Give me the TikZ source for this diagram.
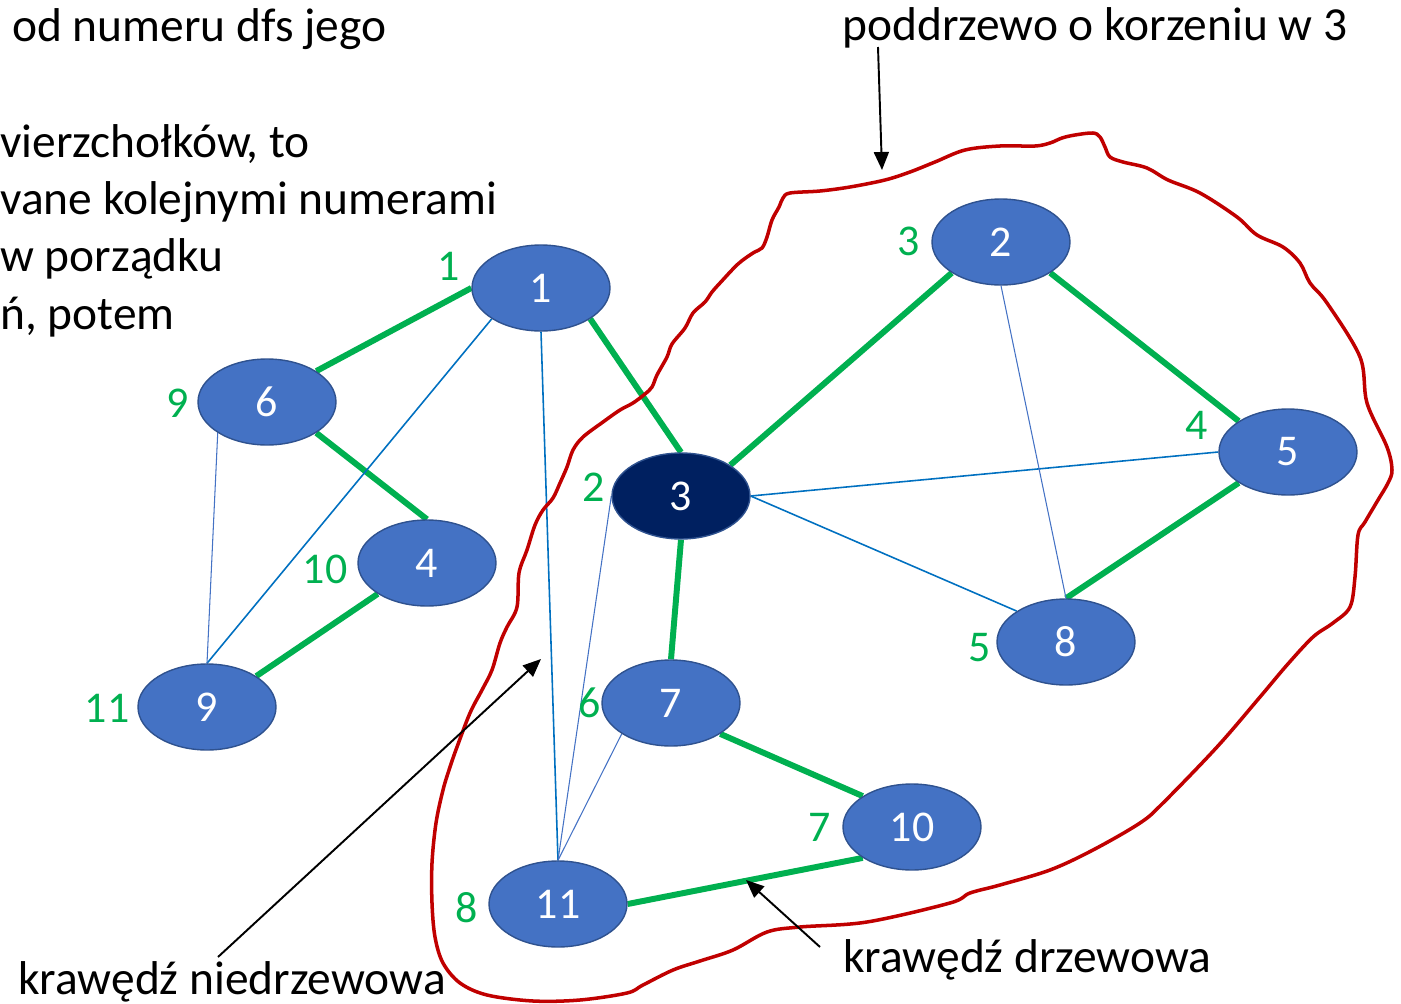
\documentclass[tikz,border=0pt]{standalone}
\usepackage{fontspec}
\setmainfont{Carlito}
\usetikzlibrary{shapes.geometric, arrows.meta, backgrounds}

\definecolor{vblue}{HTML}{4472C4}
\definecolor{vborder}{HTML}{2F528F}
\definecolor{vroot}{HTML}{002060}
\definecolor{tgreen}{HTML}{00B050}
\definecolor{bblue}{HTML}{0070C0}
\definecolor{sred}{HTML}{C00000}

\tikzset{
  vertex/.style={ellipse, draw=vborder, fill=vblue, line width=0.8pt,
    minimum width=2.76cm, minimum height=1.72cm, inner sep=0pt,
    text=white, font=\fontsize{25}{30}\selectfont},
  root/.style={vertex, fill=vroot},
  dfsnum/.style={text=tgreen, inner sep=0pt, font=\fontsize{25}{30}\selectfont},
  treeedge/.style={draw=tgreen, line width=3.4pt},
  backedge/.style={draw=bblue, line width=0.9pt},
  thinedge/.style={draw=vblue, line width=0.6pt},
  caption/.style={inner sep=0pt, anchor=base west, font=\fontsize{27}{32}\selectfont},
  pointer/.style={-{Triangle[length=0.36cm,width=0.3cm]}, line width=1.1pt},
}

\begin{document}
\begin{tikzpicture}[x=0.02cm, y=-0.02cm]
        \useasboundingbox (0,0) rectangle (1401,1004);

        % text of the slide, cut at the left edge
        \node[caption] (line1) at (12,41)  {od numeru dfs jego};
        \node[caption] (line2) at (0,157)  {vierzchołków, to};
        \node[caption] (line3) at (0,214)  {vane kolejnymi numerami};
        \node[caption] (line4) at (0,271)  {w porządku};
        \node[caption] (line5) at (0,329)  {ń, potem};

        % graph
        \node[vertex] (n1)  at (541,288) {1};
        \node[vertex] (n6)  at (267,402) {6};
        \node[vertex] (n4)  at (427,563) {4};
        \node[vertex] (n9)  at (207,707) {9};
        \node[root]   (n3)  at (681,496) {3};
        \node[vertex] (n2)  at (1001,242) {2};
        \node[vertex] (n5)  at (1288,452) {5};
        \node[vertex] (n8)  at (1066,642) {8};
        \node[vertex] (n7)  at (671,703) {7};
        \node[vertex] (n10) at (912,827) {10};
        \node[vertex] (n11) at (558,904) {11};

        % dfs numbers
        \node[dfsnum] (d1)  at (449,266) {1};
        \node[dfsnum] (d6)  at (178,403) {9};
        \node[dfsnum] (d4)  at (325,569) {10};
        \node[dfsnum] (d9)  at (107,708) {11};
        \node[dfsnum] (d3)  at (594,487) {2};
        \node[dfsnum] (d2)  at (909,241) {3};
        \node[dfsnum] (d5)  at (1197,425) {4};
        \node[dfsnum] (d8)  at (980,648) {5};
        \node[dfsnum] (d7)  at (590,703) {6};
        \node[dfsnum] (d10) at (820,827) {7};
        \node[dfsnum] (d11) at (467,908) {8};

        \begin{scope}[on background layer]
        \path[treeedge]
        (n1.west) edge (n6.north east)
        (n6.south east) edge (n4.north)
        (n4.south west) edge (n9.north east)
        (n1.south east) edge (n3.north)
        (n3.north east) edge (n2.south west)
        (n2.south east) edge (n5.north west)
        (n5.south west) edge (n8.north)
        (n3.south) edge (n7.north)
        (n7.south east) edge (n10.north west)
        (n10.south west) edge (n11.east);

        \path[backedge]
        (n1.south west) edge (n9.north)
        (n1.south) edge (n11.north)
        (n3.east) edge (n5.west)
             edge (n8.north west);

        \path[thinedge]
        (n6.south west) edge (n9.north)
        (n3.west) edge (n11.north)
        (n7.south west) edge (n11.north)
        (n2.south) edge (n8.north);
        \end{scope}

        % subtree of vertex 3
        \draw[sred, line width=2pt] plot[smooth cycle, tension=0.55] coordinates {
          (790,193) (820,191) (850,187) (885,180) (910,172) (935,162) (965,150)
          (1000,146) (1035,146) (1050,143) (1062,138) (1075,135) (1093,133)
          (1100,137) (1105,147) (1110,157) (1123,162) (1147,168) (1168,180)
          (1200,193) (1237,217) (1257,235) (1283,247) (1300,263) (1310,283)
          (1327,303) (1360,357) (1367,403) (1387,447) (1392,470) (1388,483)
          (1378,500) (1365,522) (1358,535) (1355,577) (1350,607) (1333,623)
          (1313,637) (1287,665) (1260,697) (1217,747) (1163,803) (1140,823)
          (1093,850) (1050,870) (1000,885) (970,893) (950,903) (867,922)
          (800,927) (767,932) (733,950) (700,961) (673,970) (643,985)
          (627,993) (580,1000) (533,1001) (487,995) (460,983) (443,963)
          (435,937) (432,903) (432,863) (436,823) (443,790) (450,767)
          (457,747) (470,713) (482,690) (492,670) (500,643) (507,627)
          (517,607) (519,573) (527,550) (535,525) (543,510) (553,498)
          (560,483) (567,467) (573,450) (583,437) (603,422) (620,410)
          (633,403) (645,394) (652,387) (657,375) (667,357) (672,344)
          (685,328) (693,313) (705,302) (712,292) (720,283) (738,264)
          (753,253) (762,248) (767,237) (772,220) (779,207) (783,198)};

        % annotations
        \node[caption] (capsub)  at (842,40)  {poddrzewo o korzeniu w 3};
        \node[caption] (captree) at (843,972) {krawędź drzewowa};
        \node[caption] (capback) at (18,994)  {krawędź niedrzewowa};

        \coordinate (subtail)  at (878,47);
        \coordinate (subtip)   at (882,170);
        \coordinate (treetail) at (820,947);
        \coordinate (treetip)  at (746,880);
        \coordinate (backtail) at (218,957);
        \coordinate (backtip)  at (541,659);

        \draw[pointer] (subtail) -- (subtip);
        \draw[pointer] (treetail) -- (treetip);
        \draw[pointer] (backtail) -- (backtip);
\end{tikzpicture}
\end{document}
